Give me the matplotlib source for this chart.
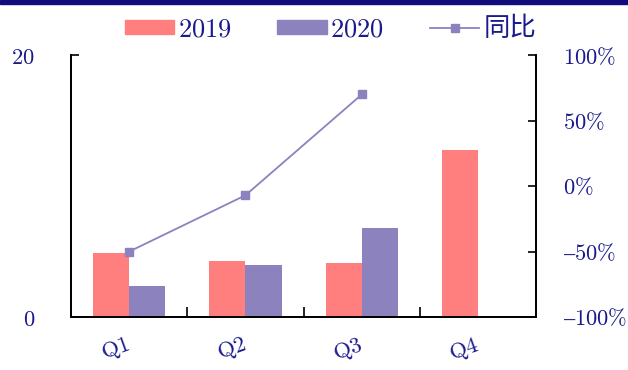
import matplotlib
matplotlib.use("Agg")
import numpy as np
import matplotlib.pyplot as plt
import matplotlib.transforms as mtransforms
from matplotlib.patches import Patch
from matplotlib.lines import Line2D

plt.rcParams['font.family'] = ['DejaVu Serif', 'Noto Sans CJK SC']
plt.rcParams['mathtext.fontset'] = 'cm'

# quarterly values
quarters = ['Q1', 'Q2', 'Q3', 'Q4']
v2019 = [4.9, 4.3, 4.1, 12.75]
v2020 = [2.4, 3.95, 6.8]
yoy = [-50, -7, 70]   # percent

PINK = '#ff7f7f'
PURPLE = '#8b82be'
NAVY = '#1a1a8c'
FS = 16.2


def pct(t):
    # short dash instead of the wide math minus
    s = '%d\\%%' % abs(t)
    return '$\u2013%s$' % s if t < 0 else '$%s$' % s


fig = plt.figure(figsize=(6.28, 3.70), dpi=100)
fig.patches.append(plt.Rectangle((0, 0.988), 1, 0.012, transform=fig.transFigure,
                                 color='#100c7c', zorder=0))
ax = fig.add_axes([0.113, 0.143, 0.741, 0.708])
ax2 = ax.twinx()

x = np.arange(len(quarters))
w = 0.31
ax.bar(x - w, v2019, width=w, align='edge', color=PINK, zorder=2)
ax.bar(x[:len(v2020)], v2020, width=w, align='edge', color=PURPLE, zorder=2)
ax2.plot(x[:len(yoy)], yoy, color=PURPLE, lw=1.3, marker='s', ms=6, zorder=3)

ax.set_xlim(-0.5, 3.5)
ax.set_ylim(0, 20)
ax2.set_ylim(-100, 100)

# category separators as ticks, labels at centers
ax.set_xticks([0.5, 1.5, 2.5])
ax.set_xticklabels([])
ax.set_xticks(x, minor=True)
ax.set_xticklabels([r'$\mathrm{%s}$' % q for q in quarters], minor=True,
                   rotation=20, fontsize=FS, color=NAVY)
ax.tick_params(axis='x', which='major', direction='in', length=7, width=1.2)
ax.tick_params(axis='x', which='minor', length=0, pad=12)
shift = mtransforms.ScaledTranslation(-10 / 72, 0, fig.dpi_scale_trans)
for lbl in ax.get_xticklabels(minor=True):
    lbl.set_transform(lbl.get_transform() + shift)

ax.set_yticks([0, 20])
ax.set_yticklabels(['$0$', '$20$'], fontsize=FS, color=NAVY)
ax.tick_params(axis='y', direction='in', length=6, width=1.2, pad=26)

ticks2 = [-100, -50, 0, 50, 100]
ax2.set_yticks(ticks2)
ax2.set_yticklabels([pct(t) for t in ticks2], fontsize=FS, color=NAVY)
ax2.tick_params(axis='y', direction='in', length=6, width=1.2, pad=19)

for a in (ax, ax2):
    a.spines['top'].set_visible(False)
    for s in ('left', 'right', 'bottom'):
        a.spines[s].set_linewidth(1.3)

handles = [Patch(color=PINK), Patch(color=PURPLE),
           Line2D([], [], color=PURPLE, lw=1.3, marker='s', ms=6.3)]
labels = ['$2019$', '$2020$', '同比']
leg = fig.legend(handles, labels, ncol=3, loc='center', bbox_to_anchor=(0.526, 0.922),
                 frameon=False, fontsize=19, handlelength=1.86, handleheight=0.49,
                 columnspacing=1.75, handletextpad=0.15, borderpad=0, borderaxespad=0)
for t in leg.get_texts():
    t.set_color(NAVY)
leg.get_texts()[2].set_fontfamily(['Noto Sans CJK SC'])

fig.savefig('out.png', dpi=100)
